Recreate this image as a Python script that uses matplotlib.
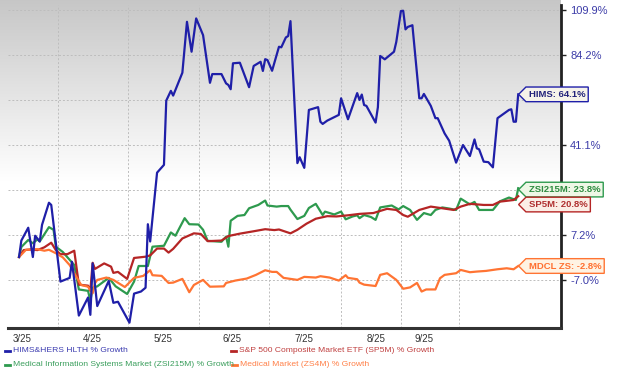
import numpy as np
import matplotlib
matplotlib.use("Agg")
import matplotlib.pyplot as plt
from matplotlib.path import Path
from matplotlib.lines import Line2D

plt.rcParams['font.family'] = ['Liberation Sans', 'DejaVu Sans']

# day offsets from the start of the window and % growth
hims_days = [0, 1, 4, 6, 7, 9, 10, 13, 14, 18, 22, 23, 26, 30, 31, 32, 34, 39, 41, 43,
             48, 50, 53, 55, 56, 57, 60, 63, 64, 66, 67, 71, 73, 75, 77, 80, 83, 84, 88, 90,
             91, 92, 93, 96, 100, 102, 105, 106, 107, 108, 110, 113, 114, 116, 117, 118, 121, 122, 124, 126,
             130, 131, 132, 134, 139, 140, 143, 147, 148, 149, 150, 151, 155, 156, 157, 159, 163, 164, 166, 167,
             168, 169, 171, 174, 175, 176, 179, 181, 182, 185, 187, 190, 193, 196, 198, 199, 200, 202, 204, 206,
             208, 213, 214, 215, 216, 217]
hims_vals = [0.0, 5.3, 9.6, 0.0, 6.9, 5.0, 10.6, 18.4, 17.6, -7.5, -6.4, -1.5, -17.1, -12.1, -16.9, -2.0, -14.5, -7.3, -13.6, -13.3,
             -19.0, -11.0, -10.4, -9.3, 10.8, 5.0, 29.8, 32.9, 61.1, 65.8, 63.5, 74.9, 102.9, 86.0, 104.9, 95.2, 69.8, 74.2, 74.2, 69.5,
             68.7, 66.6, 79.8, 80.1, 67.6, 78.4, 80.6, 75.8, 82.0, 81.5, 75.9, 88.7, 88.4, 93.9, 94.7, 103.3, 33.6, 36.0, 31.7, 56.7,
             58.0, 51.3, 50.3, 51.8, 54.4, 62.2, 52.4, 64.7, 61.4, 64.0, 59.0, 58.6, 50.9, 58.0, 83.7, 81.9, 86.0, 91.4, 109.3, 109.5,
             98.5, 99.9, 100.9, 62.2, 62.2, 64.3, 58.6, 52.9, 52.9, 46.1, 42.9, 33.8, 41.1, 36.5, 43.5, 39.7, 39.3, 34.2, 34.0, 31.9,
             52.9, 56.7, 57.0, 51.3, 51.3, 64.1]

zsi_days = [0, 1, 4, 6, 8, 9, 13, 15, 16, 19, 24, 26, 30, 31, 32, 34, 39, 42, 47, 50,
            52, 56, 58, 63, 66, 68, 70, 72, 74, 78, 80, 82, 88, 90, 91, 92, 95, 98, 100, 104,
            107, 108, 112, 114, 117, 118, 121, 124, 126, 129, 132, 133, 137, 140, 142, 145, 147, 148, 150, 153,
            155, 157, 162, 165, 167, 170, 173, 176, 179, 181, 184, 187, 190, 192, 196, 198, 200, 206, 209, 213,
            216, 217]
zsi_vals = [0.0, 3.2, 5.5, 4.4, 5.7, 5.0, 9.8, 8.9, 3.3, 1.6, -2.5, -9.8, -10.2, -13.1, -9.3, -8.9, -6.4, -8.9, -11.1, -7.5,
            -2.8, -2.8, 3.3, 3.6, 8.0, 6.9, 9.9, 12.9, 10.8, 10.7, 8.9, 5.2, 4.9, 6.6, 3.3, 12.0, 13.7, 14.0, 16.4, 17.6,
            19.2, 17.4, 17.0, 17.2, 17.2, 15.9, 12.6, 13.7, 16.5, 18.0, 14.0, 15.2, 14.2, 15.2, 12.5, 13.5, 13.9, 12.9, 14.0, 13.3,
            12.3, 16.7, 17.4, 16.0, 17.2, 15.8, 12.3, 14.7, 14.0, 15.8, 16.7, 16.3, 15.8, 19.9, 17.8, 18.7, 15.8, 15.8, 18.9, 20.3,
            19.4, 23.8]

sp5m_days = [0, 2, 5, 8, 11, 14, 16, 18, 21, 24, 26, 30, 31, 32, 33, 37, 40, 41, 43, 47,
             50, 55, 57, 60, 63, 65, 67, 71, 76, 79, 82, 88, 91, 96, 102, 107, 111, 113, 118, 121,
             125, 129, 134, 138, 143, 148, 154, 160, 164, 167, 169, 174, 179, 184, 189, 192, 196, 202, 206, 209,
             215, 217]
sp5m_vals = [0.0, 2.2, 2.4, 2.2, 3.1, 4.6, 2.2, 0.9, 0.9, 2.0, -8.4, -8.7, -10.2, -1.8, -3.7, -2.0, -3.0, -4.9, -4.6, -6.7,
             -0.3, 0.1, 0.5, 2.7, 2.7, 1.4, 2.6, 6.0, 7.7, 7.5, 5.1, 5.3, 6.8, 7.6, 8.4, 9.1, 8.8, 9.0, 7.7, 8.9,
             11.0, 12.7, 13.6, 13.5, 13.9, 14.4, 14.7, 16.2, 15.8, 14.0, 13.4, 15.8, 17.0, 16.4, 15.8, 17.0, 18.0, 17.6, 17.6, 18.8,
             19.4, 20.8]

mdcl_days = [0, 3, 8, 11, 13, 16, 19, 22, 24, 27, 30, 32, 33, 34, 38, 41, 46, 50, 54, 57,
             58, 62, 65, 67, 71, 74, 76, 80, 83, 89, 90, 94, 99, 103, 107, 110, 112, 115, 121, 124,
             129, 131, 135, 139, 142, 143, 147, 148, 150, 155, 157, 160, 164, 167, 170, 173, 175, 177, 181, 183,
             185, 190, 192, 196, 199, 203, 208, 212, 215, 217]
mdcl_vals = [0.0, 2.3, 2.5, 2.0, 2.3, 1.2, -0.1, -2.5, -5.0, -8.5, -9.0, -10.9, -8.0, -7.0, -6.3, -7.0, -9.1, -6.4, -5.8, -4.1,
             -5.6, -5.8, -7.9, -7.8, -6.7, -10.6, -8.5, -7.0, -9.0, -8.9, -7.9, -7.2, -6.6, -5.5, -4.1, -4.6, -4.6, -6.4, -7.0, -6.1,
             -6.3, -5.9, -6.3, -7.2, -5.6, -6.4, -6.8, -7.8, -8.4, -8.8, -5.5, -5.0, -7.0, -9.6, -9.2, -7.9, -10.4, -9.8, -9.8, -6.5,
             -5.5, -5.0, -4.0, -4.7, -4.5, -4.3, -3.8, -3.5, -3.8, -2.8]

month_labels = ['3/25', '4/25', '5/25', '6/25', '7/25', '8/25', '9/25']
month_label_pos = [1.3, 31.7, 62.6, 92.6, 123.9, 155.2, 176.1]
month_grid_pos = [17.0, 47.4, 78.3, 108.7, 140.0, 166.1, 191.3]
y_ticks = [109.9, 84.2, 61.4, 41.1, 23.1, 7.2, -7.0]
# 61.4% and 23.1% sit under the HIMS / ZSI tags, so their labels stay hidden
y_tick_labels = ['109.9%', '84.2%', '', '41.1%', '', '7.2%', '-7.0%']

series = [
    # name, days, values, line colour, legend colour, tag text, tag fill, tag text colour, tag offset (pt)
    ('Medical Information Systems Market (ZSI215M) % Growth', zsi_days, zsi_vals, '#2e9a4e', '#3a9e5c',
     'ZSI215M: 23.8%', '#eef7e6', '#2e8b40', -1),
    ('S&P 500 Composite Market ETF (SP5M) % Growth', sp5m_days, sp5m_vals, '#b52525', '#c04040',
     'SP5M: 20.8%', '#fbeee6', '#b03030', -6),
    ('Medical Market (ZS4M) % Growth', mdcl_days, mdcl_vals, '#ff7433', '#ff8048',
     'MDCL ZS: -2.8%', '#fff3e3', '#ff7030', 0),
    ('HIMS&HERS HLTH % Growth', hims_days, hims_vals, '#1f1fa8', '#3c3cb0',
     'HIMS: 64.1%', '#f6f3ea', '#22227a', 0),
]


def fwd(v):
    return np.log(np.clip(np.asarray(v, dtype=float) + 119.0, 1e-6, None))


def inv(u):
    return np.exp(u) - 119.0


def tag_box(x0, y0, width, height, mutation_size):
    pad = 0.3 * mutation_size
    x0 -= pad
    y0 -= pad
    width += 2 * pad
    height += 2 * pad
    tip = 0.5 * height
    verts = [(x0, y0), (x0 + width, y0), (x0 + width, y0 + height),
             (x0, y0 + height), (x0 - tip, y0 + height / 2), (x0, y0)]
    return Path(verts, closed=True)


fig = plt.figure(figsize=(6.2, 3.76), dpi=100)
W, H = 620.0, 376.0

# grey gradient behind the plot
bg = fig.add_axes([0, 48 / H, 561 / W, 328 / H], zorder=0)
grad = np.linspace(0, 1, 256).reshape(-1, 1)
grad = np.clip(grad / 0.55, 0, 1)
top_c = np.array([0.78, 0.78, 0.78])
img = top_c + (1 - top_c) * grad[..., None]
bg.imshow(img, aspect='auto', extent=[0, 1, 0, 1], origin='upper')
bg.axis('off')

ax = fig.add_axes([8 / W, 48 / H, 553 / W, 323 / H], zorder=1)
ax.patch.set_alpha(0)
ax.set_yscale('function', functions=(fwd, inv))
ax.set_xlim(-4.8, 235.6)
ax.set_ylim(-20.4, 113.0)

for name, d, v, c, lc, tag, fill, tc, dy in series:
    ax.plot(d, v, color=c, lw=1.6, solid_joinstyle='round', zorder=3)

for name, d, v, c, lc, tag, fill, tc, dy in series:
    ax.annotate(tag, xy=(d[-1], v[-1]), xytext=(7.6, dy), textcoords='offset points',
                ha='left', va='center', fontsize=6.8, fontweight='bold', color=tc,
                annotation_clip=False, zorder=10,
                bbox=dict(boxstyle=tag_box, fc=fill, ec=c, lw=1.0))

ax.set_yticks(y_ticks)
ax.set_yticklabels(y_tick_labels)
ax.yaxis.set_minor_locator(matplotlib.ticker.NullLocator())
ax.yaxis.tick_right()
ax.tick_params(axis='y', which='major', direction='out', length=3.5, width=1.0,
               pad=3, labelsize=8, labelcolor='#3c3ca8', color='#222222')

ax.set_xticks(month_label_pos)
ax.set_xticklabels(month_labels)
ax.set_xticks(month_grid_pos, minor=True)
ax.tick_params(axis='x', which='both', length=0, pad=4, labelsize=7, labelcolor='#333333')

ax.grid(True, axis='y', which='major', color='#bdbdbd', lw=0.7, ls=(0, (2, 2)))
ax.grid(True, axis='x', which='minor', color='#bdbdbd', lw=0.7, ls=(0, (2, 2)))
ax.grid(False, axis='x', which='major')

for s in ['left', 'top']:
    ax.spines[s].set_visible(False)
ax.spines['right'].set_linewidth(2.0)
ax.spines['right'].set_color('#222222')
ax.spines['bottom'].set_linewidth(2.2)
ax.spines['bottom'].set_color('#333333')

# legend below the chart, two columns
legend_pos = [(5, 351), (231, 351), (5, 365), (232, 365)]
legend_order = [3, 1, 0, 2]
for (lx, ly), idx in zip(legend_pos, legend_order):
    name, lc = series[idx][0], series[idx][4]
    fy = 1 - ly / H
    fig.add_artist(Line2D([lx / W, (lx + 5) / W], [fy, fy], color=series[idx][3], lw=2,
                          transform=fig.transFigure))
    fig.text((lx + 8) / W, fy, name, color=lc, fontsize=6.1, va='center', ha='left')

fig.savefig('out.png', dpi=100)
